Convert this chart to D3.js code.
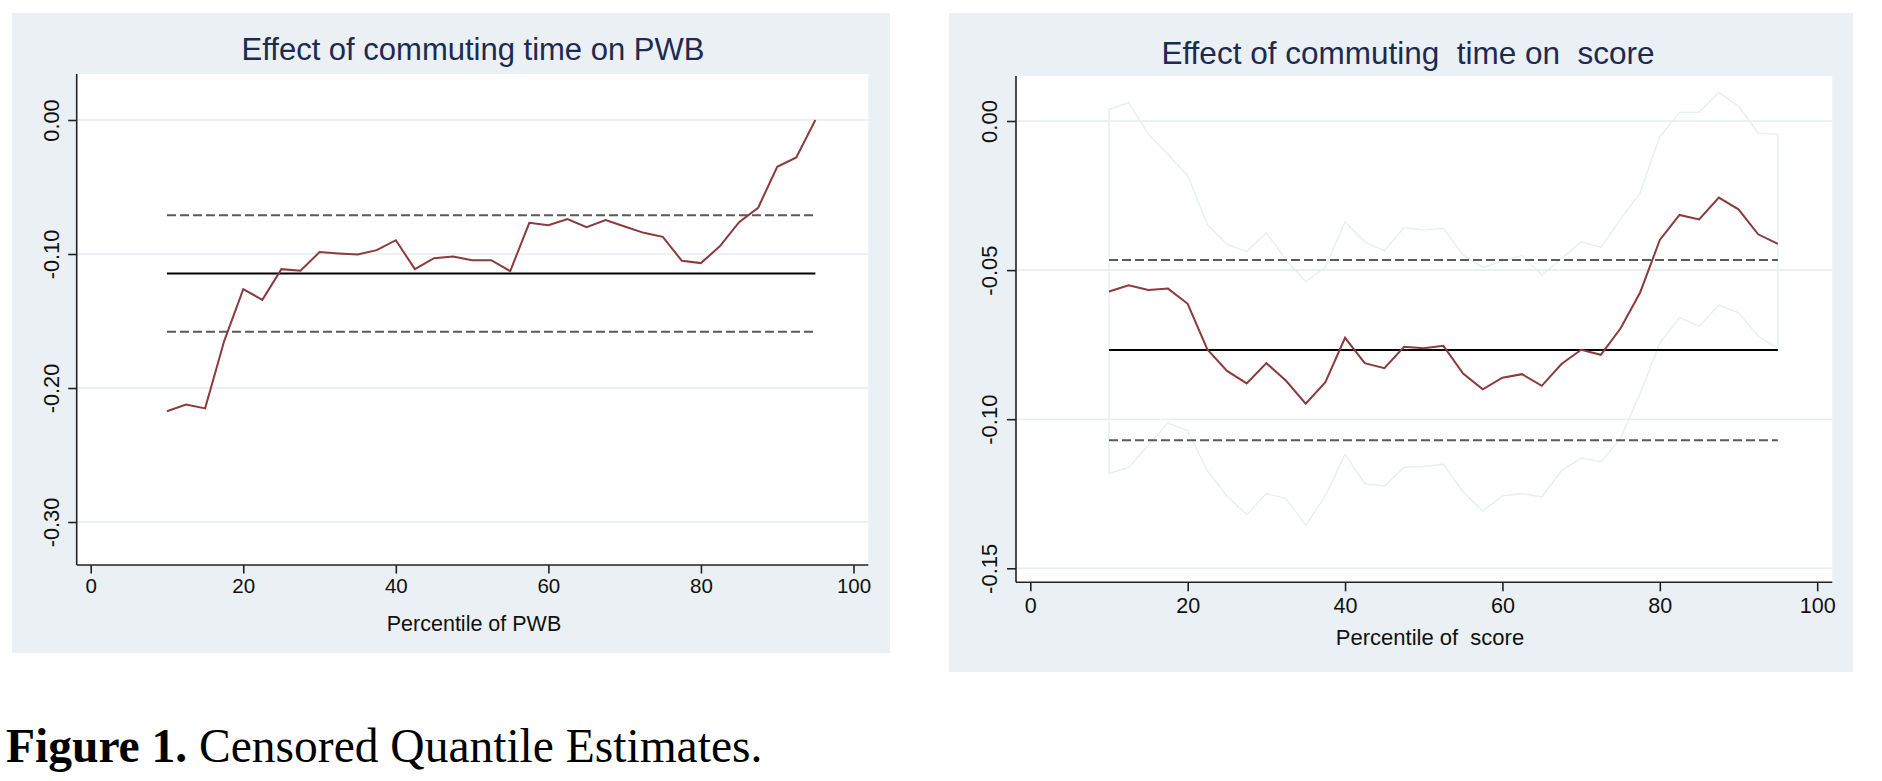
<!DOCTYPE html>
<html>
<head>
<meta charset="utf-8">
<script src="https://cdn.jsdelivr.net/npm/d3@7"></script>
<style>
  html, body { margin: 0; padding: 0; background: #ffffff; }
  svg { display: block; }
</style>
</head>
<body>
<svg id="chart" width="1882" height="781"></svg>
<script>
// ---------------- DATA ----------------
const percentiles = [10, 12.5, 15, 17.5, 20, 22.5, 25, 27.5, 30, 32.5, 35, 37.5, 40, 42.5, 45, 47.5, 50,
  52.5, 55, 57.5, 60, 62.5, 65, 67.5, 70, 72.5, 75, 77.5, 80, 82.5, 85, 87.5, 90, 92.5, 95];

// Left panel: Effect of commuting time on PWB
const pwbEffect = [-0.2174, -0.2124, -0.2152, -0.165, -0.1262, -0.1342, -0.1113, -0.1125, -0.0986, -0.0996,
  -0.1004, -0.0971, -0.0897, -0.1113, -0.1031, -0.1019, -0.1047, -0.1046, -0.1128, -0.0767,
  -0.0785, -0.0740, -0.0800, -0.0747, -0.0795, -0.0842, -0.0872, -0.1051, -0.1068, -0.0941,
  -0.0762, -0.0655, -0.0349, -0.0279, 0.0000];
const pwbOLS = -0.1146;
const pwbOLSUpper = -0.0711;
const pwbOLSLower = -0.1580;

// Right panel: Effect of commuting time on score
const scoreEffect = [-0.0572, -0.0551, -0.0567, -0.0562, -0.0613, -0.0766, -0.0838, -0.0880, -0.0812, -0.0871,
  -0.0948, -0.0876, -0.0727, -0.0812, -0.0829, -0.0757, -0.0762, -0.0754, -0.0847, -0.0900,
  -0.0861, -0.0849, -0.0888, -0.0815, -0.0767, -0.0784, -0.0696, -0.0575, -0.0399, -0.0315,
  -0.0330, -0.0257, -0.0296, -0.0380, -0.0412];
const scoreCIUpper = [0.0039, 0.0062, -0.0044, -0.0112, -0.0183, -0.0347, -0.0414, -0.0438, -0.0375, -0.0466,
  -0.0539, -0.0491, -0.0338, -0.0406, -0.0435, -0.0357, -0.0366, -0.0360, -0.0450, -0.0491,
  -0.0470, -0.0451, -0.0517, -0.0461, -0.0405, -0.0424, -0.0330, -0.0240, -0.0053, 0.0029,
  0.0029, 0.0096, 0.0050, -0.0041, -0.0045];
const scoreCILower = [-0.1182, -0.1162, -0.1087, -0.1012, -0.1039, -0.1173, -0.1258, -0.1320, -0.1249, -0.1266,
  -0.1356, -0.1257, -0.1117, -0.1216, -0.1224, -0.1162, -0.1158, -0.1151, -0.1244, -0.1308,
  -0.1257, -0.1249, -0.1261, -0.1173, -0.1130, -0.1143, -0.1065, -0.0914, -0.0744, -0.0659,
  -0.0688, -0.0617, -0.0643, -0.0721, -0.0763];
const scoreOLS = -0.0768;
const scoreOLSUpper = -0.0466;
const scoreOLSLower = -0.1071;

// Ticks and labels
const xTicks = [0, 20, 40, 60, 80, 100];
const pwbYTicks = [0, -0.1, -0.2, -0.3];
const scoreYTicks = [0, -0.05, -0.1, -0.15];
const titles = ["Effect of commuting time on PWB", "Effect of commuting  time on  score"];
const xTitles = ["Percentile of PWB", "Percentile of  score"];
const captionBold = "Figure 1.";
const captionRest = " Censored Quantile Estimates.";

// ---------------- STYLE / LAYOUT ----------------
const SANS = "'Liberation Sans', Arial, sans-serif";
const SERIF = "'Liberation Serif', 'Times New Roman', serif";
const BG = "#eaf0f3";
const GRID = "#e6eef1";
const CI = "#e7efee";
const MAROON = "#8b3a3e";
const TITLE = "#1e2a4f";

const svg = d3.select("#chart");
const fmtY = v => d3.format(".2f")(v).replace("\u2212", "-");

function panel(cfg) {
  const g = svg.append("g");
  g.append("rect").attr("x", cfg.bg[0]).attr("y", cfg.bg[1])
    .attr("width", cfg.bg[2] - cfg.bg[0]).attr("height", cfg.bg[3] - cfg.bg[1]).attr("fill", BG);

  const x = d3.scaleLinear().domain([0, 100]).range(cfg.xRange);
  const y = d3.scaleLinear().domain([cfg.yTicks[0], cfg.yTicks[cfg.yTicks.length - 1]]).range(cfg.yRange);
  const [pl, pr, pt, pb] = cfg.plot;

  g.append("rect").attr("x", pl).attr("y", pt).attr("width", pr - pl).attr("height", pb - pt).attr("fill", "#ffffff");

  g.append("g").selectAll("line").data(cfg.yTicks).join("line")
    .attr("x1", pl).attr("x2", pr).attr("y1", d => y(d)).attr("y2", d => y(d))
    .attr("stroke", GRID).attr("stroke-width", 1.6);

  if (cfg.ciUpper) {
    const area = d3.area().x((d, i) => x(percentiles[i]))
      .y0((d, i) => y(cfg.ciLower[i])).y1((d, i) => y(cfg.ciUpper[i]));
    g.append("path").datum(cfg.ciUpper).attr("d", area)
      .attr("fill", "none").attr("stroke", CI).attr("stroke-width", 1.4);
  }

  const x0 = percentiles[0], x1 = percentiles[percentiles.length - 1];
  [cfg.olsUpper, cfg.olsLower].forEach(v => {
    g.append("line").attr("x1", x(x0)).attr("x2", x(x1)).attr("y1", y(v)).attr("y2", y(v))
      .attr("stroke", "#5a5a5a").attr("stroke-width", 2).attr("stroke-dasharray", "9,4");
  });
  g.append("line").attr("x1", x(x0)).attr("x2", x(x1)).attr("y1", y(cfg.ols)).attr("y2", y(cfg.ols))
    .attr("stroke", "#000000").attr("stroke-width", 2);

  const line = d3.line().x((d, i) => x(percentiles[i])).y(d => y(d));
  g.append("path").datum(cfg.effect).attr("d", line)
    .attr("fill", "none").attr("stroke", MAROON).attr("stroke-width", 2);

  const xAxis = d3.axisBottom(x).tickValues(xTicks).tickSize(cfg.tick).tickPadding(cfg.xPad).tickSizeOuter(0)
    .tickFormat(d3.format("d"));
  const gx = g.append("g").attr("transform", `translate(0,${pb})`).call(xAxis);
  gx.select(".domain").attr("d", `M${pl},0H${pr}`).attr("stroke", "#222").attr("stroke-width", 1.6);
  gx.selectAll(".tick line").attr("stroke", "#222").attr("stroke-width", 1.6);
  gx.selectAll(".tick text").style("font-size", cfg.tickFont + "px").attr("fill", "#111")
    .style("font-family", SANS);

  const yAxis = d3.axisLeft(y).tickValues(cfg.yTicks).tickSize(cfg.tick).tickSizeOuter(0)
    .tickFormat(fmtY);
  const gy = g.append("g").attr("transform", `translate(${pl},0)`).call(yAxis);
  gy.select(".domain").attr("d", `M0,${pt}V${pb}`).attr("stroke", "#222").attr("stroke-width", 1.6);
  gy.selectAll(".tick line").attr("stroke", "#222").attr("stroke-width", 1.6);
  gy.selectAll(".tick text")
    .style("font-size", cfg.yTickFont + "px").attr("fill", "#111")
    .style("font-family", SANS)
    .attr("x", null).attr("dy", null)
    .attr("text-anchor", "middle")
    .attr("transform", `translate(${-cfg.yPad},0) rotate(-90)`)
    .attr("y", 0);

  g.append("text").attr("x", cfg.titleX).attr("y", cfg.titleY).attr("text-anchor", "middle")
    .style("font-family", SANS).style("font-size", cfg.titleFont + "px").style("white-space", "pre")
    .attr("xml:space", "preserve")
    .attr("fill", TITLE).text(cfg.title);
  g.append("text").attr("x", cfg.xTitleX).attr("y", cfg.xTitleY).attr("text-anchor", "middle")
    .style("font-family", SANS).style("font-size", cfg.xTitleFont + "px").style("white-space", "pre")
    .attr("xml:space", "preserve")
    .attr("fill", "#111").text(cfg.xTitle);
}

panel({
  bg: [12, 13, 890, 653],
  plot: [76.7, 868.3, 74, 565],
  xRange: [90.7, 853.5],
  yRange: [120, 522],
  yTicks: pwbYTicks,
  effect: pwbEffect,
  ols: pwbOLS, olsUpper: pwbOLSUpper, olsLower: pwbOLSLower,
  tick: 8.5, xPad: 5, yPad: 17.2,
  tickFont: 20.5, yTickFont: 21.8,
  title: titles[0], titleX: 473, titleY: 60, titleFont: 31,
  xTitle: xTitles[0], xTitleX: 474, xTitleY: 631, xTitleFont: 21.5
});

panel({
  bg: [949, 13, 1853, 672],
  plot: [1016, 1832.3, 76, 582.3],
  xRange: [1030.3, 1817.2],
  yRange: [121, 568.3],
  yTicks: scoreYTicks,
  effect: scoreEffect,
  ciUpper: scoreCIUpper, ciLower: scoreCILower,
  ols: scoreOLS, olsUpper: scoreOLSUpper, olsLower: scoreOLSLower,
  tick: 9, xPad: 6, yPad: 19,
  tickFont: 21.5, yTickFont: 22,
  title: titles[1], titleX: 1408, titleY: 63.5, titleFont: 31.5,
  xTitle: xTitles[1], xTitleX: 1430, xTitleY: 645, xTitleFont: 22
});

const cap = svg.append("text").attr("x", 6).attr("y", 762)
  .style("font-family", SERIF).style("font-size", "47.5px").style("white-space", "pre")
  .attr("xml:space", "preserve").attr("fill", "#000");
cap.append("tspan").style("font-weight", "bold").text(captionBold);
cap.append("tspan").text(captionRest);
</script>
</body>
</html>
